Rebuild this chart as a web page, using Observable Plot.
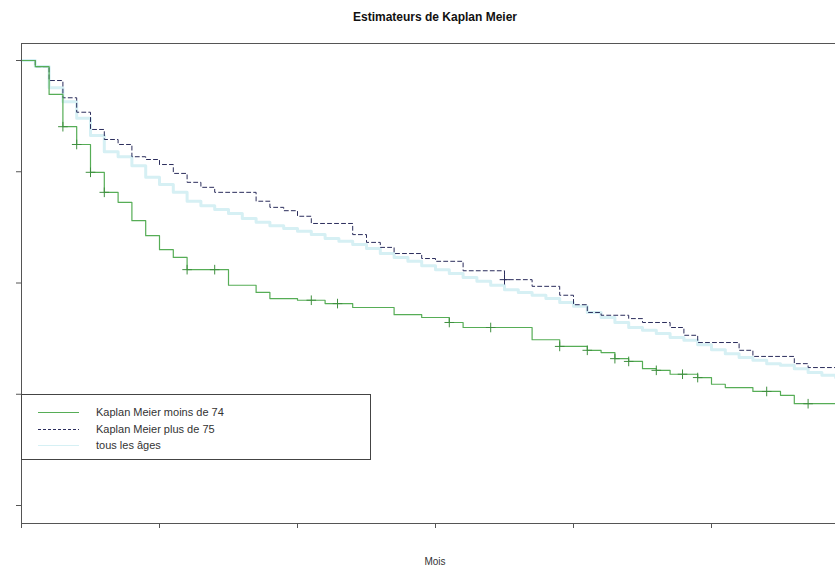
<!DOCTYPE html>
<html>
<head>
<meta charset="utf-8">
<script src="https://cdn.jsdelivr.net/npm/d3@7"></script>
<script src="https://cdn.jsdelivr.net/npm/@observablehq/plot@0.6"></script>
<style>
  html, body { margin: 0; padding: 0; background: #fff; }
  #wrap { position: relative; width: 835px; height: 571px; overflow: hidden; font-family: "Liberation Sans", Arial, sans-serif; }
  #title { position: absolute; left: 0; width: 870px; top: 10px; text-align: center; font-weight: bold; font-size: 12px; color: #111; }
  #xlab { position: absolute; left: 0; width: 870px; top: 556px; text-align: center; font-size: 10px; color: #333; }
  #legend { position: absolute; left: 21px; top: 394px; width: 348px; height: 64px; border: 1px solid #444; background: #fff; }
  .row { position: absolute; left: 0; height: 16px; width: 340px; }
  .row svg { position: absolute; left: 15px; top: 0; }
  .row span { position: absolute; left: 74px; top: 1px; font-size: 11px; color: #333; line-height: 14px; }
  svg.plot-svg { overflow: hidden; }
</style>
</head>
<body>
<div id="wrap">
  <div id="chart"></div>
  <div id="title">Estimateurs de Kaplan Meier</div>
  <div id="xlab">Mois</div>
  <div id="legend"></div>
</div>
<script>
// ---- Data ----
const xTicks = [0, 10, 20, 30, 40, 50];
const yTicks = [0.2, 0.4, 0.6, 0.8, 1.0];

const seriesNames = ["Kaplan Meier moins de 74", "Kaplan Meier plus de 75", "tous les âges"];

const timesMoins74 = [0,1,2,3,4,5,6,7,8,9,10,11,12,15,17,18,20,22,24,27,29,31,32,37,39,41,42,43,44,45,46,47,49,50,51,53,55,56,59];
const survMoins74  = [1,.989,.939,.881,.849,.799,.763,.745,.712,.685,.660,.646,.624,.596,.583,.572,.569,.563,.556,.543,.538,.529,.520,.498,.486,.479,.475,.464,.459,.446,.443,.436,.430,.418,.412,.405,.398,.383,.383];
const censorMoins74 = [3,4,5,6,12,14,21,22.9,31,34,39,41,43,44,46,47.9,49,54,57];

const timesPlus75 = [0,1,2,3,4,5,6,7,8,9,10,11,12,13,14,17,18,19,20,21,24,25,26,27,29,30,32,35,37,39,40,41,42,44,45,47,48,49,52,53,56,57,59];
const survPlus75  = [1,.989,.964,.933,.907,.876,.858,.849,.827,.822,.813,.797,.781,.772,.763,.747,.736,.730,.720,.707,.687,.673,.664,.653,.644,.639,.622,.606,.594,.578,.561,.547,.542,.536,.529,.520,.506,.493,.479,.468,.455,.448,.448];
const censorPlus75 = [35];

const timesTous = [0,1,2,3,4,5,6,7,8,9,10,11,12,13,14,15,16,17,18,19,20,21,22,23,24,25,26,27,28,29,30,31,32,33,34,35,36,37,38,39,40,41,42,43,44,45,46,47,48,49,50,51,52,53,54,55,56,57,58,59];
const survTous  = [1,.989,.951,.926,.896,.865,.836,.827,.811,.790,.777,.763,.747,.739,.732,.725,.716,.709,.703,.698,.693,.687,.680,.675,.669,.662,.653,.646,.639,.631,.624,.617,.610,.603,.596,.588,.583,.578,.572,.565,.558,.547,.538,.529,.520,.515,.509,.502,.497,.489,.480,.473,.466,.461,.455,.452,.446,.439,.434,.430];

// ---- Style ----
const colGreen = "#56ad56";
const colDash = "#2b2d5c";
const colLight = "#d6f0f4";

function toRows(times, surv) { return times.map((t, i) => ({t, s: surv[i]})); }
function survAt(times, surv, t) { let v = surv[0]; for (let i = 0; i < times.length; i++) if (times[i] <= t) v = surv[i]; return v; }

const rowsG = toRows(timesMoins74, survMoins74);
const rowsD = toRows(timesPlus75, survPlus75);
const rowsL = toRows(timesTous, survTous);
const censG = censorMoins74.map(t => ({t, s: survAt(timesMoins74, survMoins74, t)}));
const censD = censorPlus75.map(t => ({t, s: survAt(timesPlus75, survPlus75, t)}));

const W = 835, H = 571, mL = 21, mR = -2, mT = 43, mB = 48;
const pxPerMonth = 13.8, pxPerUnit = 556.25;
const xMax = (W - mR - mL) / pxPerMonth;
const yMax = 1 + (60 - mT) / pxPerUnit;
const yMin = 1 - (H - mB - 60) / pxPerUnit;

const plot = Plot.plot({
  width: W, height: H,
  marginLeft: mL, marginRight: mR, marginTop: mT, marginBottom: mB,
  style: {background: "transparent", overflow: "hidden"},
  x: {domain: [0, xMax]},
  y: {domain: [yMin, yMax]},
  marks: [
    Plot.line(rowsL, {x: "t", y: "s", curve: "step-after", stroke: colLight, strokeWidth: 3}),
    Plot.line(rowsD, {x: "t", y: "s", curve: "step-after", stroke: colDash, strokeWidth: 1, strokeDasharray: "4,3"}),
    Plot.line(rowsG, {x: "t", y: "s", curve: "step-after", stroke: colGreen, strokeWidth: 1.2}),
    Plot.dot(censG, {x: "t", y: "s", symbol: "plus", r: 3.2, stroke: "#3f8f3f", strokeWidth: 1}),
    Plot.dot(censD, {x: "t", y: "s", symbol: "plus", r: 3.2, stroke: colDash, strokeWidth: 1}),
    Plot.frame({stroke: "#555"}),
    Plot.axisX({ticks: xTicks, tickSize: 5, tickFormat: () => "", label: null, stroke: "#555"}),
    Plot.axisY({ticks: yTicks, tickSize: 5, tickFormat: () => "", label: null, stroke: "#555"})
  ]
});
plot.classList.add("plot-svg");
document.getElementById("chart").appendChild(plot);

// ---- Legend ----
const legendStyles = [
  {stroke: colGreen, width: 1.2, dash: ""},
  {stroke: colDash, width: 1, dash: "3,2"},
  {stroke: colLight, width: 1, dash: ""}
];
const legend = document.getElementById("legend");
seriesNames.forEach((name, i) => {
  const row = document.createElement("div");
  row.className = "row";
  row.style.top = (9 + i * 16.5) + "px";
  const st = legendStyles[i];
  row.innerHTML = `<svg width="44" height="16"><line x1="1" x2="42" y1="8.5" y2="8.5" stroke="${st.stroke}" stroke-width="${st.width}" stroke-dasharray="${st.dash}"/></svg><span>${name}</span>`;
  legend.appendChild(row);
});
</script>
</body>
</html>
